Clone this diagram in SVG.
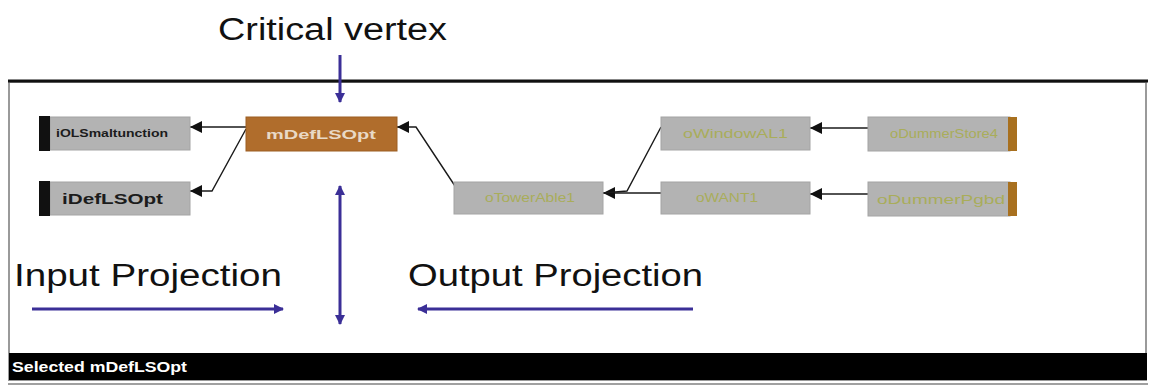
<svg xmlns="http://www.w3.org/2000/svg" width="1150" height="388" viewBox="0 0 1150 388">
  <style>
    .frame { fill: #ffffff; stroke: #9a9a9a; stroke-width: 2; }
    .node { fill: #b3b3b3; stroke: #a4a4a4; stroke-width: 1; }
    .focus { fill: #b06d2c; stroke: #9c5e22; stroke-width: 1; }
    .bar { fill: #111111; }
    .tail { fill: #a8701f; }
    .edge { stroke: #1a1a1a; stroke-width: 1.4; fill: none; }
    .hint { stroke: #3b2f97; stroke-width: 3; fill: none; }
    .big { font-family: "Liberation Sans", Arial, sans-serif; font-size: 31px; fill: #111111; }
    .lbl-dark { font-family: "Liberation Sans", Arial, sans-serif; font-weight: bold; fill: #1c1c1c; }
    .lbl-dim { font-family: "Liberation Sans", Arial, sans-serif; font-size: 12px; fill: #a9ad5a; }
    .lbl-focus { font-family: "Liberation Sans", Arial, sans-serif; font-size: 13px; font-weight: bold; fill: #e9d9c6; }
    .status { font-family: "Liberation Sans", Arial, sans-serif; font-size: 15px; font-weight: bold; fill: #ffffff; }
  </style>
  <defs>
    <marker id="tri" viewBox="0 0 10 10" refX="10" refY="5" markerWidth="18" markerHeight="12" markerUnits="userSpaceOnUse" orient="auto">
      <path d="M0,0 L10,5 L0,10 z" fill="#111111"/>
    </marker>
    <marker id="hintHead" viewBox="0 0 10 10" refX="9" refY="5" markerWidth="12" markerHeight="10" markerUnits="userSpaceOnUse" orient="auto-start-reverse">
      <path d="M0,0 L10,5 L0,10 z" fill="#3b2f97"/>
    </marker>
  </defs>

  <rect x="0" y="0" width="1150" height="388" fill="#ffffff"/>

  <!-- viewer window -->
  <g id="window">
    <rect class="frame" x="9" y="82" width="1137" height="298"/>
    <line x1="8" y1="81" x2="1148" y2="81" stroke="#111111" stroke-width="3"/>
    <rect x="9" y="353" width="1138" height="27" fill="#000000"/>
    <line x1="8" y1="384" x2="1148" y2="384" stroke="#a0a0a0" stroke-width="2"/>
    <text class="status" x="12" y="372" textLength="175" lengthAdjust="spacingAndGlyphs">Selected mDefLSOpt</text>
  </g>

  <!-- graph edges -->
  <g id="connectors">
    <path class="edge" d="M246,127 L190,127" marker-end="url(#tri)"/>
    <path class="edge" d="M246,129 L212,191 L190,191" marker-end="url(#tri)"/>
    <path class="edge" d="M455,186 L416,127 L397,127" marker-end="url(#tri)"/>
    <path class="edge" d="M661,193 L603,193" marker-end="url(#tri)"/>
    <path class="edge" d="M661,127 L627,191 L603,193"/>
    <path class="edge" d="M868,128 L810,128" marker-end="url(#tri)"/>
    <path class="edge" d="M868,194 L810,194" marker-end="url(#tri)"/>
  </g>

  <!-- graph nodes -->
  <g id="node-iOLSmaltunction">
    <rect class="node" x="50" y="117" width="140" height="33"/>
    <rect class="bar" x="39" y="116" width="11" height="35"/>
    <text class="lbl-dark" x="56" y="137" font-size="11" textLength="112" lengthAdjust="spacingAndGlyphs">iOLSmaltunction</text>
  </g>
  <g id="node-iDefLSOpt">
    <rect class="node" x="50" y="182" width="140" height="33"/>
    <rect class="bar" x="39" y="181" width="11" height="35"/>
    <text class="lbl-dark" x="62" y="204" font-size="15" textLength="101" lengthAdjust="spacingAndGlyphs">iDefLSOpt</text>
  </g>
  <g id="node-mDefLSOpt">
    <rect class="focus" x="246" y="117" width="151" height="34"/>
    <text class="lbl-focus" x="266" y="139" textLength="110" lengthAdjust="spacingAndGlyphs">mDefLSOpt</text>
  </g>
  <g id="node-oTowerAble">
    <rect class="node" x="454" y="182" width="149" height="32"/>
    <text class="lbl-dim" x="485" y="202" textLength="90" lengthAdjust="spacingAndGlyphs">oTowerAble1</text>
  </g>
  <g id="node-oWindowAL">
    <rect class="node" x="661" y="117" width="149" height="33"/>
    <text class="lbl-dim" x="683" y="138" textLength="105" lengthAdjust="spacingAndGlyphs">oWindowAL1</text>
  </g>
  <g id="node-oWANT">
    <rect class="node" x="661" y="182" width="149" height="32"/>
    <text class="lbl-dim" x="696" y="202" textLength="62" lengthAdjust="spacingAndGlyphs">oWANT1</text>
  </g>
  <g id="node-oDummerStore">
    <rect class="node" x="868" y="117" width="142" height="34"/>
    <rect class="tail" x="1008" y="117" width="9" height="34"/>
    <text class="lbl-dim" x="890" y="138" textLength="108" lengthAdjust="spacingAndGlyphs">oDummerStore4</text>
  </g>
  <g id="node-oDummerPgbd">
    <rect class="node" x="868" y="182" width="142" height="34"/>
    <rect class="tail" x="1008" y="182" width="9" height="34"/>
    <text class="lbl-dim" x="877" y="204" textLength="128" lengthAdjust="spacingAndGlyphs">oDummerPgbd</text>
  </g>

  <!-- annotations -->
  <g id="annotations">
    <text class="big" x="218" y="40" textLength="229" lengthAdjust="spacingAndGlyphs">Critical vertex</text>
    <path class="hint" d="M340,55 L340,102" marker-end="url(#hintHead)"/>
    <path class="hint" d="M340,186 L340,324" marker-start="url(#hintHead)" marker-end="url(#hintHead)"/>
    <text class="big" x="14" y="286" textLength="268" lengthAdjust="spacingAndGlyphs">Input Projection</text>
    <path class="hint" d="M32,309 L283,309" marker-end="url(#hintHead)"/>
    <text class="big" x="408" y="286" textLength="295" lengthAdjust="spacingAndGlyphs">Output Projection</text>
    <path class="hint" d="M693,309 L418,309" marker-end="url(#hintHead)"/>
  </g>
</svg>
